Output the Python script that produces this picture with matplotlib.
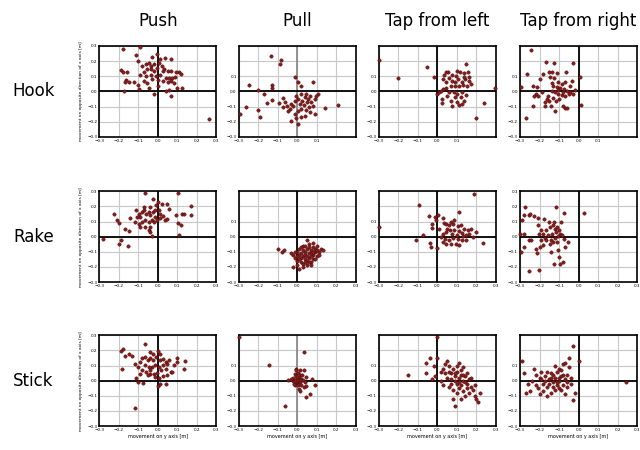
import numpy as np
import matplotlib
matplotlib.use("Agg")
import matplotlib.pyplot as plt

# Tools (rows) and actions (columns)
tools = ["Hook", "Rake", "Stick"]
actions = ["Push", "Pull", "Tap from left", "Tap from right"]
ticks = [-0.3, -0.2, -0.1, 0.0, 0.1, 0.2, 0.3]

# Object displacement per trial: (movement on y axis, movement on opposite direction of x axis) [m]
hook_push = [
    (-0.18, 0.28), (-0.09, 0.29), (-0.11, 0.24), (-0.03, 0.23), (-0.005, 0.245), (0.035, 0.22),
    (0.07, 0.215), (0.01, 0.215), (-0.10, 0.20), (-0.19, 0.14), (-0.18, 0.13), (-0.16, 0.125),
    (-0.165, 0.075), (-0.17, 0.065), (-0.145, 0.06), (-0.12, 0.06), (-0.10, 0.045), (-0.095, 0.015),
    (-0.175, 0.005), (-0.045, 0.02), (-0.02, -0.015), (0.0, 0.035), (0.04, 0.0), (0.06, 0.01),
    (0.07, -0.03), (0.10, 0.02), (0.125, 0.025), (0.26, -0.18), (0.11, 0.125), (0.12, 0.115),
    (-0.08, 0.17), (-0.06, 0.18), (-0.045, 0.19), (-0.035, 0.17), (-0.02, 0.18), (-0.005, 0.155),
    (0.005, 0.19), (0.02, 0.17), (0.03, 0.145), (0.05, 0.135), (0.07, 0.135), (-0.055, 0.145),
    (-0.07, 0.125), (-0.09, 0.11), (-0.06, 0.10), (-0.035, 0.11), (-0.01, 0.10), (0.01, 0.105),
    (0.04, 0.085), (0.06, 0.09), (0.075, 0.085), (0.09, 0.095), (0.07, 0.07), (0.05, 0.06),
    (0.085, 0.055), (-0.055, 0.055), (-0.07, 0.07), (-0.03, 0.08), (0.025, 0.07), (0.0, 0.075),
    (-0.035, 0.145), (-0.02, 0.135), (0.025, 0.135), (0.095, 0.125),
]
hook_pull = [
    (-0.134, 0.234), (-0.082, 0.208), (-0.086, 0.18), (-0.014, 0.098), (0.003, 0.059), (0.02, 0.037),
    (0.081, 0.063), (-0.245, 0.044), (-0.129, 0.044), (-0.13, 0.02), (-0.2, 0.009), (-0.173, -0.018),
    (-0.293, -0.149), (-0.262, -0.105), (-0.2, -0.123), (-0.19, -0.171), (-0.154, -0.079), (-0.13, -0.055),
    (-0.096, -0.077), (-0.074, -0.046), (-0.065, -0.072), (-0.053, -0.094), (-0.039, -0.116), (-0.031, -0.199),
    (0.003, -0.214), (-0.005, -0.175), (0.02, -0.171), (0.038, -0.16), (0.063, -0.138), (0.089, -0.149),
    (0.106, -0.018), (0.141, -0.112), (0.209, -0.09), (-0.03, -0.083), (-0.022, -0.094), (-0.014, -0.061),
    (0.003, -0.05), (0.012, -0.083), (0.026, -0.061), (0.038, -0.039), (0.055, -0.05), (0.072, -0.072),
    (0.089, -0.05), (0.094, -0.033), (0.081, -0.094), (0.06, -0.105), (0.043, -0.12), (0.02, -0.116),
    (0.003, -0.133), (-0.014, -0.149), (-0.048, -0.127), (-0.074, -0.105), (0.046, -0.018), (0.02, -0.018),
    (-0.009, -0.028), (0.063, -0.028), (0.033, -0.09), (0.05, -0.072),
]
hook_tap_left = [
    (-0.3, 0.21), (-0.2, 0.085), (-0.056, 0.164), (-0.02, 0.092), (0.295, 0.022), (0.239, -0.079),
    (0.196, -0.175), (0.148, 0.179), (0.055, 0.125), (0.046, 0.129), (0.102, 0.136), (0.114, 0.129),
    (0.136, 0.12), (0.155, 0.125), (0.0, -0.018), (0.009, -0.007), (0.022, -0.05), (0.022, -0.077),
    (0.077, -0.094), (0.102, -0.072), (0.111, -0.088), (0.124, -0.083), (0.136, -0.061), (0.068, -0.061),
    (0.026, 0.081), (0.043, 0.063), (0.06, 0.085), (0.077, 0.07), (0.09, 0.059), (0.107, 0.081),
    (0.124, 0.063), (0.141, 0.081), (0.162, 0.07), (0.17, 0.048), (0.153, 0.037), (0.131, 0.042),
    (0.111, 0.037), (0.09, 0.033), (0.068, 0.037), (0.046, 0.02), (0.029, 0.015), (0.017, 0.004),
    (0.06, -0.002), (0.085, -0.007), (0.102, -0.018), (0.128, -0.007), (0.145, -0.024), (0.119, -0.039),
    (0.09, -0.039), (0.051, -0.028), (0.097, 0.103), (0.136, 0.098), (0.162, 0.098), (0.034, 0.107),
    (0.077, 0.107),
]
hook_tap_right = [
    (-0.244, 0.274), (-0.166, 0.195), (-0.127, 0.186), (-0.029, 0.19), (-0.262, 0.112), (-0.295, 0.026),
    (-0.235, 0.037), (-0.214, 0.031), (-0.197, 0.081), (-0.183, 0.112), (-0.153, 0.131), (-0.134, 0.125),
    (-0.11, 0.118), (-0.062, 0.125), (0.007, 0.098), (0.01, -0.088), (-0.232, -0.094), (-0.269, -0.177),
    (-0.172, -0.098), (-0.142, -0.094), (-0.12, -0.131), (-0.082, -0.098), (-0.069, -0.112), (-0.058, -0.112),
    (-0.22, -0.018), (-0.209, -0.033), (-0.226, -0.033), (-0.046, 0.037), (-0.034, 0.07), (-0.017, 0.011),
    (-0.146, 0.092), (-0.124, 0.085), (-0.103, 0.059), (-0.086, 0.048), (-0.069, 0.059), (-0.129, 0.037),
    (-0.112, 0.026), (-0.094, 0.02), (-0.077, 0.015), (-0.06, 0.004), (-0.043, -0.007), (-0.137, 0.004),
    (-0.12, -0.007), (-0.103, -0.018), (-0.086, -0.024), (-0.069, -0.033), (-0.154, -0.028), (-0.163, -0.05),
    (-0.149, -0.061), (-0.132, -0.046), (-0.115, -0.061), (-0.098, -0.05), (-0.172, -0.072), (-0.189, -0.007),
    (-0.137, 0.055), (-0.106, 0.011), (-0.082, -0.002), (-0.051, -0.018), (-0.026, -0.018),
]
rake_push = [
    (-0.063, 0.29), (-0.024, 0.25), (0.105, 0.29), (0.0, 0.229), (-0.007, 0.207), (0.048, 0.213),
    (0.022, 0.213), (0.168, 0.202), (0.172, 0.141), (0.122, 0.147), (0.134, 0.152), (0.105, 0.092),
    (0.117, 0.075), (0.108, 0.009), (0.091, 0.145), (0.06, 0.18), (-0.223, 0.147), (-0.209, 0.112),
    (-0.2, 0.09), (-0.278, -0.013), (-0.189, -0.024), (-0.197, -0.046), (-0.154, -0.064), (-0.166, 0.048),
    (-0.149, 0.035), (-0.141, 0.125), (-0.11, 0.174), (-0.029, 0.002), (0.039, 0.112), (0.048, 0.119),
    (-0.098, 0.152), (-0.089, 0.13), (-0.081, 0.163), (-0.069, 0.174), (-0.058, 0.152), (-0.046, 0.163),
    (-0.038, 0.141), (-0.024, 0.163), (-0.012, 0.178), (0.005, 0.174), (0.014, 0.152), (0.027, 0.134),
    (0.01, 0.125), (-0.012, 0.13), (-0.029, 0.112), (-0.046, 0.097), (-0.063, 0.108), (-0.081, 0.097),
    (-0.098, 0.086), (-0.089, 0.064), (-0.063, 0.064), (-0.046, 0.042), (-0.038, 0.064), (-0.072, 0.196),
    (-0.038, 0.196), (-0.106, 0.13), (-0.115, 0.097), (-0.003, 0.108), (-0.021, 0.097), (-0.041, 0.031),
]
rake_pull = [
    (-0.10, -0.08), (-0.08, -0.10), (-0.07, -0.09), (-0.02, -0.20), (0.0, -0.19), (0.01, -0.21),
    (0.02, -0.17), (0.03, -0.18), (0.05, -0.19), (0.07, -0.17), (0.08, -0.15), (0.10, -0.13),
    (0.11, -0.10), (0.12, -0.08), (0.10, -0.06), (0.08, -0.04), (0.06, -0.05), (0.05, -0.02),
    (0.03, -0.06), (0.01, -0.08), (0.00, -0.10), (-0.02, -0.12), (-0.01, -0.14), (0.02, -0.11),
    (0.03, -0.13), (0.04, -0.10), (0.05, -0.08), (0.06, -0.11), (0.07, -0.09), (0.08, -0.12),
    (0.09, -0.10), (0.06, -0.14), (0.04, -0.15), (0.02, -0.14), (0.00, -0.16), (0.05, -0.16),
    (0.07, -0.13), (0.09, -0.08), (0.03, -0.09), (0.01, -0.12), (0.04, -0.12), (0.06, -0.07),
    (0.08, -0.07), (0.10, -0.09), (0.02, -0.07), (-0.01, -0.10), (0.03, -0.20), (0.07, -0.19),
    (0.09, -0.15), (0.11, -0.12), (0.04, -0.06), (0.05, -0.13), (0.07, -0.11), (0.00, -0.13),
    (0.13, -0.09), (0.06, -0.17), (0.01, -0.15), (-0.03, -0.11), (0.08, -0.10), (0.04, -0.17),
]
rake_tap_left = [
    (-0.3, 0.067), (-0.094, 0.206), (0.185, 0.284), (0.111, 0.161), (-0.111, -0.025), (-0.072, 0.009),
    (-0.043, 0.136), (-0.026, 0.058), (-0.038, -0.043), (-0.031, -0.069), (0.0, -0.074), (0.235, -0.043),
    (0.197, 0.031), (0.005, 0.143), (-0.005, 0.11), (-0.012, 0.128), (0.029, 0.121), (-0.026, 0.087),
    (0.034, 0.092), (0.046, 0.087), (0.06, 0.076), (0.081, 0.083), (0.103, 0.069), (0.12, 0.076),
    (0.137, 0.054), (0.154, 0.043), (0.172, 0.054), (0.163, 0.02), (0.146, 0.009), (0.125, 0.025),
    (0.108, 0.038), (0.086, 0.047), (0.063, 0.043), (0.043, 0.031), (0.026, 0.02), (0.017, -0.002),
    (0.039, -0.013), (0.06, -0.02), (0.081, -0.007), (0.103, -0.013), (0.125, -0.025), (0.146, -0.02),
    (0.094, -0.047), (0.069, -0.051), (0.046, -0.047), (0.026, -0.036), (0.111, -0.058), (0.009, 0.054),
    (0.051, 0.054), (0.077, 0.02), (0.098, 0.009), (0.129, 0.002), (0.18, -0.002), (0.086, 0.11),
    (0.069, 0.098),
]
rake_tap_right = [
    (-0.272, 0.195), (-0.114, 0.199), (-0.076, 0.159), (0.028, 0.154), (-0.088, 0.094), (-0.29, 0.11),
    (-0.278, 0.143), (-0.255, 0.143), (-0.248, 0.15), (-0.226, 0.136), (-0.209, 0.121), (-0.179, 0.116),
    (-0.3, 0.02), (-0.281, 0.02), (-0.295, -0.103), (-0.278, -0.069), (-0.252, -0.02), (-0.243, -0.025),
    (-0.217, -0.081), (-0.214, -0.11), (-0.255, -0.226), (-0.203, -0.221), (-0.126, -0.177), (-0.097, -0.181),
    (-0.079, -0.166), (-0.1, -0.132), (-0.14, -0.098), (-0.105, -0.087), (-0.071, -0.069), (-0.053, -0.036),
    (-0.076, -0.013), (-0.209, 0.076), (-0.191, 0.047), (-0.205, 0.02), (-0.183, 0.02), (-0.166, 0.043),
    (-0.148, 0.065), (-0.131, 0.076), (-0.122, 0.054), (-0.11, 0.065), (-0.1, 0.043), (-0.114, 0.031),
    (-0.134, 0.02), (-0.157, 0.009), (-0.174, -0.007), (-0.191, -0.025), (-0.166, -0.025), (-0.14, -0.02),
    (-0.122, -0.007), (-0.105, 0.002), (-0.093, 0.016), (-0.148, -0.047), (-0.183, -0.058), (-0.2, -0.069),
    (-0.131, -0.036), (-0.11, -0.036), (-0.083, 0.009), (-0.128, 0.098), (-0.152, 0.098),
]
stick_push = [
    (-0.176, 0.212), (-0.189, 0.194), (-0.168, 0.161), (-0.149, 0.174), (-0.131, 0.161), (-0.182, 0.079),
    (-0.067, 0.245), (-0.116, -0.181), (-0.112, 0.02), (-0.102, -0.009), (-0.076, -0.015), (0.003, -0.038),
    (0.009, -0.02), (0.04, -0.02), (0.005, 0.018), (0.14, 0.13), (0.135, 0.079), (0.097, 0.152),
    (0.097, 0.124), (0.083, 0.101), (0.066, 0.057), (0.074, 0.057), (0.048, 0.035), (-0.038, 0.19),
    (-0.024, 0.179), (0.0, 0.196), (0.014, 0.179), (-0.116, 0.113), (-0.099, 0.09), (-0.09, 0.124),
    (-0.081, 0.152), (-0.064, 0.157), (-0.052, 0.135), (-0.038, 0.152), (-0.024, 0.135), (-0.007, 0.157),
    (0.01, 0.139), (0.028, 0.146), (0.04, 0.124), (0.048, 0.113), (0.057, 0.135), (0.028, 0.102),
    (0.005, 0.09), (-0.012, 0.102), (-0.029, 0.09), (-0.047, 0.09), (-0.064, 0.102), (-0.081, 0.068),
    (-0.059, 0.057), (-0.038, 0.068), (-0.021, 0.046), (-0.003, 0.051), (0.017, 0.068), (0.04, 0.079),
    (-0.038, 0.042), (-0.052, 0.035), (-0.012, 0.024), (0.028, 0.029), (-0.09, 0.046),
]
stick_pull = [
    (-0.3, 0.29), (0.034, 0.19), (-0.146, 0.102), (-0.065, -0.164), (0.046, -0.108), (0.063, -0.091),
    (0.089, -0.027), (0.077, 0.013), (0.033, 0.073), (-0.005, 0.08), (-0.046, 0.002), (-0.022, 0.02),
    (0.046, -0.038), (0.009, -0.053), (0.012, -0.069), (-0.014, 0.046), (0.003, 0.051), (0.015, 0.04),
    (-0.009, 0.029), (0.009, 0.02), (0.021, 0.013), (-0.005, 0.007), (-0.022, -0.004), (-0.009, -0.015),
    (0.003, -0.009), (0.015, -0.009), (0.029, 0.002), (-0.031, 0.013), (-0.014, -0.031), (0.003, -0.031),
    (0.021, -0.027), (0.038, -0.009), (0.043, 0.024), (0.026, 0.035), (-0.005, 0.069), (0.012, 0.069),
    (-0.002, 0.024), (-0.019, -0.02), (0.033, -0.042), (0.012, 0.007), (0.0, 0.002), (-0.01, -0.002),
]
stick_tap_left = [
    (0.0, 0.29), (-0.15, 0.04), (-0.06, 0.12), (-0.04, 0.15), (0.0, 0.15), (-0.02, 0.10),
    (-0.03, 0.01), (-0.01, 0.03), (0.02, 0.0), (0.03, 0.08), (0.04, 0.11), (0.05, 0.13),
    (0.06, 0.10), (0.07, 0.05), (0.08, 0.08), (0.09, 0.03), (0.10, 0.06), (0.11, 0.02),
    (0.12, 0.04), (0.13, 0.0), (0.14, 0.03), (0.15, -0.02), (0.16, 0.01), (0.17, -0.04),
    (0.18, -0.06), (0.19, -0.10), (0.20, -0.12), (0.21, -0.14), (0.09, -0.17), (0.08, -0.12),
    (0.10, -0.08), (0.11, -0.05), (0.12, -0.03), (0.13, -0.07), (0.14, -0.01), (0.09, 0.0),
    (0.07, -0.02), (0.05, 0.02), (0.06, -0.04), (0.08, -0.06), (0.10, 0.10), (0.12, 0.07),
    (0.15, 0.05), (0.13, 0.09), (0.11, 0.12), (0.04, 0.05), (0.03, -0.03), (0.16, -0.08),
    (0.17, 0.02), (0.14, -0.10), (0.12, -0.12), (0.10, -0.02), (0.07, 0.01), (0.06, 0.06),
    (0.09, 0.05), (0.11, -0.01), (0.13, 0.04), (0.15, -0.05), (0.22, -0.08), (0.19, -0.03),
    (0.02, 0.06), (-0.06, 0.05),
]
stick_tap_right = [
    (-0.29, 0.13), (-0.28, 0.05), (-0.26, -0.02), (-0.25, -0.07), (-0.24, 0.0), (-0.22, 0.04),
    (-0.21, -0.05), (-0.20, 0.02), (-0.19, 0.06), (-0.18, -0.02), (-0.17, 0.03), (-0.16, -0.04),
    (-0.15, 0.01), (-0.14, 0.05), (-0.13, -0.01), (-0.12, 0.02), (-0.11, -0.03), (-0.10, 0.0),
    (-0.09, -0.06), (-0.08, 0.04), (-0.07, -0.09), (-0.06, -0.04), (-0.05, 0.09), (-0.04, -0.02),
    (-0.03, 0.23), (-0.05, 0.15), (-0.08, 0.11), (-0.10, 0.08), (-0.12, 0.10), (-0.14, -0.08),
    (-0.16, -0.10), (-0.18, -0.07), (-0.20, -0.09), (-0.22, -0.03), (-0.13, 0.04), (-0.11, 0.06),
    (-0.09, 0.03), (-0.07, 0.01), (-0.06, -0.01), (-0.08, -0.03), (-0.10, -0.05), (-0.12, -0.06),
    (-0.15, -0.02), (-0.17, 0.00), (-0.19, 0.01), (-0.14, 0.02), (-0.09, 0.07), (-0.07, 0.12),
    (0.0, 0.13), (0.245, -0.01), (-0.02, -0.08), (-0.03, -0.13), (-0.11, -0.01), (-0.13, -0.04),
    (-0.23, 0.08), (-0.27, -0.08), (-0.06, 0.04), (-0.04, 0.02), (-0.16, 0.06), (-0.10, 0.02),
]

panels = [
    [hook_push, hook_pull, hook_tap_left, hook_tap_right],
    [rake_push, rake_pull, rake_tap_left, rake_tap_right],
    [stick_push, stick_pull, stick_tap_left, stick_tap_right],
]


def fmt(t):
    # tick text with a real minus sign, as in the original
    return ("%.1f" % t).replace("-", "\u2212") if abs(t) > 1e-9 else "0.0"


fig = plt.figure(figsize=(6.4, 4.5), dpi=100)

lefts = [0.155, 0.373, 0.592, 0.8125]
bottoms = [0.696, 0.373, 0.053]
w, h = 0.183, 0.202

for r, tool in enumerate(tools):
    for c, action in enumerate(actions):
        ax = fig.add_axes([lefts[c], bottoms[r], w, h])
        pts = np.array(panels[r][c])
        ax.set_xlim(-0.3, 0.3)
        ax.set_ylim(-0.3, 0.3)
        ax.set_xticks(ticks)
        ax.set_yticks(ticks)
        ax.grid(True, color='#c8c8c8', linewidth=0.8)
        ax.set_axisbelow(True)
        vcol = '#8c8c8c' if (c == 1 and r != 1) else 'black'
        ax.axvline(0, color=vcol, linewidth=1.3, zorder=1)
        ax.axhline(0, color='black', linewidth=1.3, zorder=1)
        ax.scatter(pts[:, 0], pts[:, 1], s=6, color='#8b1a1a', edgecolors='#3a0a0a',
                   linewidths=0.3, zorder=3, clip_on=False)
        for sp in ax.spines.values():
            sp.set_linewidth(1.2)
        ax.tick_params(labelsize=3, length=0, pad=1.5)

        # some tick labels are not shown in the original figure
        ylabs = [fmt(t) for t in ticks]
        if c > 0 and not (r == 1 and c == 3):
            ylabs = [l if t < 0.15 else "" for l, t in zip(ylabs, ticks)]
        ax.set_yticklabels(ylabs)
        xlabs = [fmt(t) for t in ticks]
        if r == 0 and c > 0:
            xlabs = [l if t < 0.15 else "" for l, t in zip(xlabs, ticks)]
        ax.set_xticklabels(xlabs)

        if c == 0:
            ax.set_ylabel("movement on opposite direction of x axis [m]", fontsize=3.2, labelpad=3)
        if r == 2:
            ax.set_xlabel("movement on y axis [m]", fontsize=3.5, labelpad=1.5)
        if r == 0:
            ax.set_title(action, fontsize=12, pad=14)

    fig.text(0.052, bottoms[r] + h / 2, tool, fontsize=12, ha='center', va='center')

plt.savefig("out.png", dpi=100)
